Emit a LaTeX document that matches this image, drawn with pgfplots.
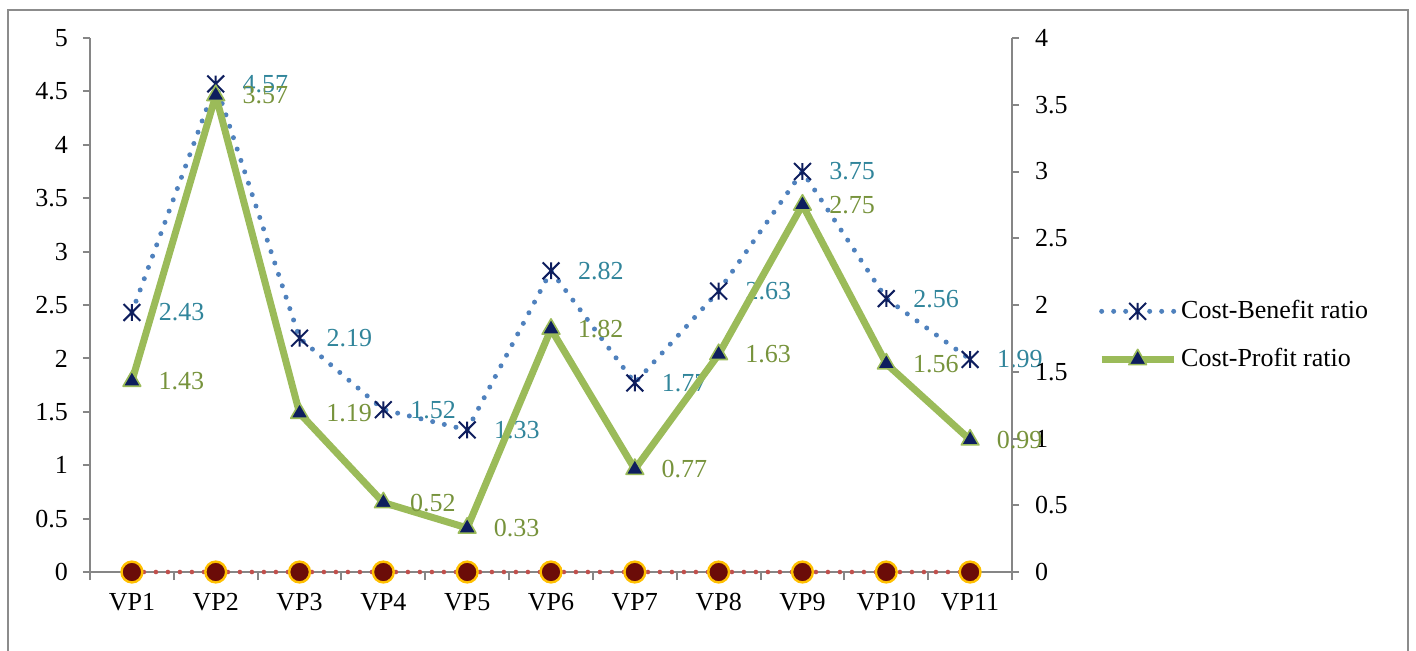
\documentclass[border=0pt]{standalone}
\usepackage{fontspec}
\setmainfont{Liberation Serif}
\usepackage{pgfplots}
\usepackage{pgfplotstable}
\pgfplotsset{compat=1.18}

\definecolor{axisgray}{RGB}{134,134,134}
\definecolor{framegray}{RGB}{140,140,140}
\definecolor{cbline}{RGB}{79,129,189}
\definecolor{cpline}{RGB}{155,187,89}
\definecolor{navymark}{RGB}{14,30,94}
\definecolor{cblabel}{RGB}{49,133,155}
\definecolor{cplabel}{RGB}{119,147,60}
\definecolor{zeroline}{RGB}{192,80,77}
\definecolor{zerofill}{RGB}{107,12,8}
\definecolor{zeroedge}{RGB}{255,192,0}

% star marker: a cross with a vertical bar through it
\pgfdeclareplotmark{xstar}{%
  \pgfpathmoveto{\pgfqpoint{-\pgfplotmarksize}{-\pgfplotmarksize}}%
  \pgfpathlineto{\pgfqpoint{\pgfplotmarksize}{\pgfplotmarksize}}%
  \pgfpathmoveto{\pgfqpoint{-\pgfplotmarksize}{\pgfplotmarksize}}%
  \pgfpathlineto{\pgfqpoint{\pgfplotmarksize}{-\pgfplotmarksize}}%
  \pgfpathmoveto{\pgfqpoint{0pt}{-\pgfplotmarksize}}%
  \pgfpathlineto{\pgfqpoint{0pt}{\pgfplotmarksize}}%
  \pgfusepathqstroke}

% cost-benefit (left axis) and cost-profit (right axis) per project
\pgfplotstableread{
idx cb   cp   zero
1   2.43 1.43 0
2   4.57 3.57 0
3   2.19 1.19 0
4   1.52 0.52 0
5   1.33 0.33 0
6   2.82 1.82 0
7   1.77 0.77 0
8   2.63 1.63 0
9   3.75 2.75 0
10  2.56 1.56 0
11  1.99 0.99 0
}\ratios

\pgfplotsset{
  /pgf/number format/assume math mode=true,
  ratioaxis/.style={
    scale only axis, width=461pt, height=267pt,
    at={(45pt,39pt)}, anchor=south west,
    xmin=0.5, xmax=11.5, ymin=0,
    clip=false,
    axis line style={axisgray, line width=1pt, -},
    tick style={axisgray, line width=1pt},
    tick align=outside,
    major tick length=3.5pt,
    minor tick length=4pt,
    ticklabel style={text=black},
  },
  cbstyle/.style={cbline, line width=2.5pt, line cap=round, dash pattern=on 0pt off 6pt,
    mark=xstar, mark size=4.2pt,
    mark options={solid, draw=navymark, line width=1pt, line cap=butt}},
  cpstyle/.style={cpline, line width=3.5pt, line join=round,
    mark=triangle*, mark size=5.1pt,
    mark options={solid, fill=navymark, draw=cpline, line width=0.8pt}},
}

\begin{document}
\fontsize{13}{15.6}\selectfont
\begin{tikzpicture}
\path[use as bounding box] (0,0) rectangle (708pt,325pt);
\draw[framegray, line width=1pt] (4pt,-10pt) rectangle (704pt,320pt);

\begin{axis}[ratioaxis,
  ymax=5, ytick={0,0.5,...,5},
  axis y line*=left, axis x line*=bottom,
  xtick={1,...,11},
  xticklabels={VP1,VP2,VP3,VP4,VP5,VP6,VP7,VP8,VP9,VP10,VP11},
  minor xtick={0.5,1.5,...,11.5},
  major x tick style={draw=none},
  xticklabel style={yshift=-2.5pt},
  yticklabel style={xshift=-3pt},
]
\addplot[zeroline, line width=2.3pt, line cap=round, dash pattern=on 0pt off 6pt,
  mark=*, mark size=5.2pt,
  mark options={solid, fill=zerofill, draw=zeroedge, line width=1.2pt}]
  table[x=idx, y=zero] {\ratios};
\addplot[cbstyle,
  nodes near coords,
  nodes near coords style={anchor=west, xshift=13pt, inner sep=0pt, text=cblabel}]
  table[x=idx, y=cb] {\ratios};
\end{axis}

\begin{axis}[ratioaxis,
  ymax=4, ytick={0,0.5,...,4},
  axis y line*=right, axis x line=none,
  yticklabel style={xshift=3.5pt},
  legend style={at={(1.093,0.443)}, anchor=west, draw=none, fill=none,
    inner sep=0pt, row sep=9pt, text=black,
    nodes={inner sep=2pt}},
  legend cell align=left,
  legend image code/.code={\draw[mark repeat=2, mark phase=2, #1]
    plot coordinates {(0pt,0pt) (18pt,0pt) (36pt,0pt)};},
]
\addlegendimage{cbstyle}
\addplot[cpstyle,
  nodes near coords,
  nodes near coords style={anchor=west, xshift=13pt, inner sep=0pt, text=cplabel}]
  table[x=idx, y=cp] {\ratios};
\legend{Cost-Benefit ratio, Cost-Profit ratio}
\end{axis}
\end{tikzpicture}
\end{document}
